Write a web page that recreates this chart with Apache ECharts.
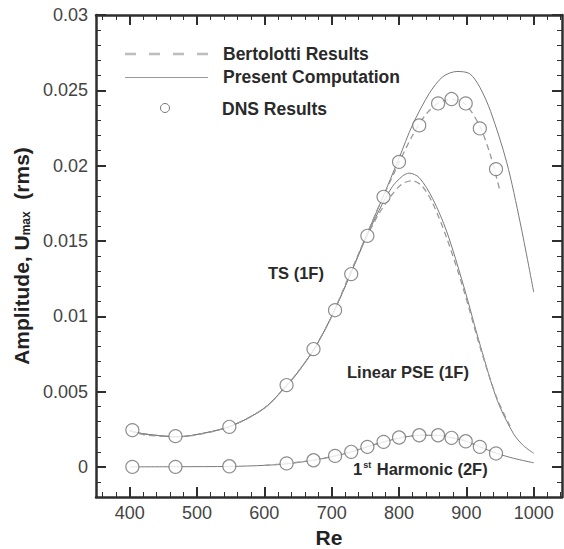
<!DOCTYPE html>
<html><head><meta charset="utf-8">
<script src="https://cdn.jsdelivr.net/npm/echarts@6/dist/echarts.min.js"></script>
<style>html,body{margin:0;padding:0;background:#fff}#c{width:564px;height:549px}</style>
</head><body><div id="c"></div>
<script>
// ---- tick labels ----
const xMajor = [400, 500, 600, 700, 800, 900, 1000];
const xMinor = [360, 380, 420, 440, 460, 480, 520, 540, 560, 580, 620, 640, 660, 680, 720, 740, 760, 780, 820, 840, 860, 880, 920, 940, 960, 980, 1020, 1040];
const yMajor = [0, 0.005, 0.01, 0.015, 0.02, 0.025, 0.03];
const yMinor = [-0.001, 0.001, 0.002, 0.003, 0.004, 0.006, 0.007, 0.008, 0.009, 0.011, 0.012, 0.013, 0.014, 0.016, 0.017, 0.018, 0.019, 0.021, 0.022, 0.023, 0.024, 0.026, 0.027, 0.028, 0.029];

// ---- DNS results (circles) ----
const dnsRe = [404, 468, 548, 633, 673, 705, 729, 753, 777, 800, 830, 858, 878, 899, 920, 944];
const dnsTS = [0.00244, 0.00204, 0.00266, 0.00543, 0.00782, 0.0104, 0.0128, 0.01534, 0.01793, 0.02025, 0.02267, 0.02413, 0.02442, 0.02413, 0.02247, 0.01977];
const dnsHarm = [0, 0, 0.00004, 0.00023, 0.00044, 0.00073, 0.001, 0.00133, 0.00166, 0.00195, 0.0021, 0.0021, 0.00193, 0.0017, 0.00133, 0.00089];

// ---- Present computation: TS (1F) nonlinear ----
const tsRe = [400, 420, 450, 470, 500, 550, 600, 633, 650, 675, 700, 725, 750, 775, 800, 820, 845, 865, 886, 905, 920, 936, 960, 980, 1000];
const tsVal = [0.0024, 0.0022, 0.00205, 0.002, 0.00215, 0.0027, 0.0039, 0.0054, 0.0063, 0.0079, 0.0100, 0.0125, 0.0152, 0.0178, 0.0205, 0.0227, 0.0248, 0.0259, 0.02625, 0.0261, 0.0252, 0.0236, 0.0202, 0.0162, 0.0116];

// ---- Bertolotti: TS (1F) nonlinear ----
const bTsRe = [400, 420, 450, 470, 500, 550, 600, 633, 650, 675, 700, 725, 750, 775, 800, 820, 840, 860, 880, 900, 920, 935, 950];
const bTsVal = [0.0024, 0.00215, 0.00203, 0.002, 0.00213, 0.0027, 0.0039, 0.0054, 0.0063, 0.0079, 0.0100, 0.0126, 0.0152, 0.0178, 0.0202, 0.0220, 0.0234, 0.0242, 0.0244, 0.0240, 0.0226, 0.0208, 0.0183];

// ---- Present computation: Linear PSE (1F) ----
const linRe = [400, 420, 450, 470, 500, 550, 600, 633, 650, 675, 700, 725, 750, 770, 790, 805, 815, 830, 850, 871, 896, 921, 946, 970, 985, 1000];
const linVal = [0.0024, 0.0022, 0.00205, 0.002, 0.00215, 0.0027, 0.0039, 0.0054, 0.0063, 0.0079, 0.0100, 0.0125, 0.0151, 0.0170, 0.0186, 0.0193, 0.0195, 0.0192, 0.0178, 0.0156, 0.0120, 0.0080, 0.0044, 0.0022, 0.0014, 0.0009];

// ---- Bertolotti: Linear PSE (1F) ----
const bLinRe = [750, 770, 790, 805, 820, 835, 850, 870, 895, 920, 945, 965];
const bLinVal = [0.0151, 0.0168, 0.0181, 0.0188, 0.0190, 0.0186, 0.0175, 0.0153, 0.0119, 0.0080, 0.0046, 0.0027];

// ---- Present computation: 1st Harmonic (2F) ----
const harmRe = [400, 470, 550, 600, 633, 673, 705, 729, 753, 777, 800, 830, 858, 878, 900, 920, 945, 970, 1000];
const harmVal = [0, 0.00001, 0.00003, 0.0001, 0.0002, 0.00044, 0.00072, 0.001, 0.00133, 0.00165, 0.0019, 0.0021, 0.00209, 0.00193, 0.0017, 0.00133, 0.0009, 0.00057, 0.00027];

// ---- Bertolotti: 1st Harmonic (2F) ----
const bHarmRe = [600, 633, 673, 705, 729, 753, 777, 800, 830, 858, 878, 900, 920, 945];
const bHarmVal = [0.0001, 0.00022, 0.00045, 0.00074, 0.001, 0.00134, 0.00166, 0.00193, 0.0021, 0.0021, 0.00194, 0.0017, 0.00134, 0.0009];

const zip = (a, b) => a.map((v, i) => [v, b[i]]);
const FRAME = '#2e2e2e';
const TF = 'Liberation Sans, Arial, sans-serif';

function xa(pos, ticks, len, w, line, labels, extra) {
  return Object.assign({
    type: 'value', min: 350, max: 1042, position: pos, gridIndex: 0,
    axisLine: { show: line, onZero: false, lineStyle: { color: FRAME, width: 2.5 } },
    axisTick: { show: true, inside: true, length: len, customValues: ticks, lineStyle: { color: FRAME, width: w } },
    axisLabel: { show: labels, customValues: ticks, margin: 7, fontSize: 18, color: '#444', fontFamily: TF,
      formatter: v => String(Math.round(v)) },
    splitLine: { show: false }
  }, extra || {});
}
function ya(pos, ticks, len, w, line, labels, extra) {
  return Object.assign({
    type: 'value', min: -0.002, max: 0.03, position: pos, gridIndex: 0,
    axisLine: { show: line, onZero: false, lineStyle: { color: FRAME, width: 2.5 } },
    axisTick: { show: true, inside: true, length: len, customValues: ticks, lineStyle: { color: FRAME, width: w } },
    axisLabel: { show: labels, customValues: ticks, margin: 8, fontSize: 18, color: '#444', fontFamily: TF,
      formatter: v => String(+(+v).toFixed(3)) },
    splitLine: { show: false }
  }, extra || {});
}

function lineS(name, data, dashed) {
  return {
    type: 'line', name: name, data: data, xAxisIndex: 0, yAxisIndex: 0,
    showSymbol: false, symbol: 'none', smooth: 0.3, z: dashed ? 3 : 2,
    lineStyle: dashed ? { color: '#9a9a9a', width: 1.3, type: [6, 4] } : { color: '#7a7a7a', width: 1 }
  };
}
function dotS(name, data) {
  return {
    type: 'scatter', name: name, data: data, xAxisIndex: 0, yAxisIndex: 0,
    symbol: 'circle', symbolSize: 13, z: 5,
    itemStyle: { color: '#fff', borderColor: '#707070', borderWidth: 1.2 }
  };
}

const chart = echarts.init(document.getElementById('c'), null, { renderer: 'svg' });
chart.setOption({
  animation: false,
  backgroundColor: '#fff',
  grid: { left: 96, right: 2, top: 15, bottom: 52, containLabel: false, outerBoundsMode: 'none' },
  xAxis: [
    xa('bottom', xMajor, 10, 2, true, true, {
      name: 'Re', nameLocation: 'middle', nameGap: 30,
      nameTextStyle: { fontSize: 21, fontWeight: 'bold', color: '#222', fontFamily: TF }
    }),
    xa('bottom', xMinor, 5, 1, false, false),
    xa('top', xMajor, 10, 2, true, false),
    xa('top', xMinor, 5, 1, false, false)
  ],
  yAxis: [
    ya('left', yMajor, 10, 2, true, true, {
      name: '{a|Amplitude, U}{s|max}{a|  (rms)}', nameLocation: 'middle', nameGap: 62, nameRotate: 90,
      nameTextStyle: { color: '#222', fontFamily: TF,
        rich: { a: { fontSize: 21, fontWeight: 'bold', color: '#222', fontFamily: TF },
                s: { fontSize: 12, fontWeight: 'bold', color: '#222', fontFamily: TF, padding: [10, 0, 0, 0] } } }
    }),
    ya('left', yMinor, 5, 1, false, false),
    ya('right', yMajor, 10, 2, true, false),
    ya('right', yMinor, 5, 1, false, false)
  ],
  series: [
    lineS('Present Computation', zip(tsRe, tsVal), false),
    lineS('Present Computation', zip(linRe, linVal), false),
    lineS('Present Computation', zip(harmRe, harmVal), false),
    lineS('Bertolotti Results', zip(bTsRe, bTsVal), true),
    lineS('Bertolotti Results', zip(bLinRe, bLinVal), true),
    lineS('Bertolotti Results', zip(bHarmRe, bHarmVal), true),
    dotS('DNS Results', zip(dnsRe, dnsTS)),
    dotS('DNS Results', zip(dnsRe, dnsHarm))
  ],
  graphic: [
    { type: 'line', shape: { x1: 125, y1: 54, x2: 208, y2: 54 }, style: { stroke: '#bdbdbd', lineWidth: 2.6, lineDash: [11, 13] } },
    { type: 'line', shape: { x1: 125, y1: 77.5, x2: 208, y2: 77.5 }, style: { stroke: '#999', lineWidth: 1 } },
    { type: 'circle', shape: { cx: 165, cy: 108, r: 4.5 }, style: { stroke: '#777', fill: '#fff', lineWidth: 1 } },
    { type: 'text', x: 223, y: 53.5, style: { text: 'Bertolotti Results', fontSize: 17.5, fontWeight: 'bold', fill: '#2a2a2a', fontFamily: TF, verticalAlign: 'middle' } },
    { type: 'text', x: 223, y: 77, style: { text: 'Present Computation', fontSize: 17.5, fontWeight: 'bold', fill: '#2a2a2a', fontFamily: TF, verticalAlign: 'middle' } },
    { type: 'text', x: 222, y: 108.5, style: { text: 'DNS Results', fontSize: 17.5, fontWeight: 'bold', fill: '#2a2a2a', fontFamily: TF, verticalAlign: 'middle' } },
    { type: 'text', x: 268, y: 273, style: { text: 'TS (1F)', fontSize: 16.5, fontWeight: 'bold', fill: '#2a2a2a', fontFamily: TF, verticalAlign: 'middle' } },
    { type: 'text', x: 347, y: 372, style: { text: 'Linear PSE (1F)', fontSize: 16.5, fontWeight: 'bold', fill: '#2a2a2a', fontFamily: TF, verticalAlign: 'middle' } },
    { type: 'text', x: 353, y: 469, style: {
        text: '{a|1}{s|st}{a| Harmonic (2F)}', fontFamily: TF, verticalAlign: 'middle',
        rich: { a: { fontSize: 16.5, fontWeight: 'bold', fill: '#2a2a2a', color: '#2a2a2a', fontFamily: TF },
                s: { fontSize: 9, fontWeight: 'bold', fill: '#2a2a2a', color: '#2a2a2a', fontFamily: TF, padding: [0, 1, 9, 1] } } } }
  ]
});
</script>
</body></html>
